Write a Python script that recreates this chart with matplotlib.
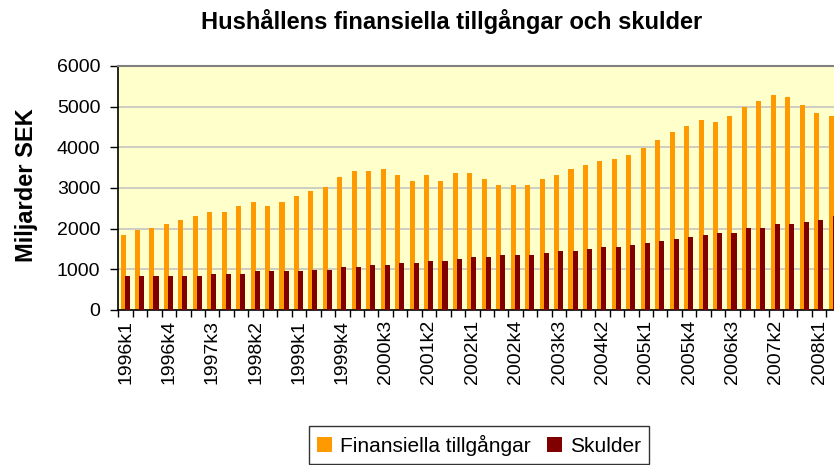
import matplotlib.pyplot as plt
import numpy as np

plt.rcParams['font.family'] = ['Liberation Sans', 'DejaVu Sans']

# kvartal 1996k1 .. 2008k2
kvartal = [f"{ar}k{k}" for ar in range(1996, 2009) for k in range(1, 5)][:50]

tillgangar = [1841, 1964, 2013, 2111, 2209, 2308, 2406, 2406, 2553, 2651,
              2553, 2651, 2799, 2921, 3020, 3265, 3412, 3412, 3461, 3314,
              3167, 3314, 3167, 3363, 3363, 3216, 3069, 3069, 3069, 3216,
              3314, 3461, 3560, 3658, 3707, 3805, 3977, 4173, 4370, 4517,
              4664, 4615, 4763, 4984, 5131, 5278, 5229, 5033, 4836, 4763]

skulder = [835, 835, 835, 835, 835, 835, 884, 884, 884, 957,
           957, 957, 957, 982, 982, 1056, 1056, 1105, 1105, 1154,
           1154, 1203, 1203, 1252, 1301, 1301, 1350, 1350, 1350, 1399,
           1448, 1448, 1498, 1547, 1547, 1596, 1645, 1694, 1743, 1792,
           1841, 1890, 1890, 2013, 2013, 2111, 2111, 2160, 2209, 2308]

yticks = [0, 1000, 2000, 3000, 4000, 5000, 6000]

fig = plt.figure(figsize=(8.34, 4.65), dpi=100)
ax = fig.add_axes([118.3/834, 1-310/465, 722.5/834, 244/465])
ax.set_facecolor('#FFFFCC')

x = np.arange(len(kvartal))
ax.bar(x - 0.17, tillgangar, width=0.35, color='#FF9900', label='Finansiella tillgångar', zorder=2)
ax.bar(x + 0.11, skulder, width=0.35, color='#800000', label='Skulder', zorder=3)

ax.set_xlim(-0.5, len(kvartal) - 0.5)
ax.set_ylim(0, 6000)
ax.set_yticks(yticks)
ax.set_yticklabels([str(v) for v in yticks], fontsize=14)
ax.yaxis.grid(True, color='#C0C0C0', linewidth=1.1, zorder=1)
ax.set_axisbelow(True)

ax.set_xticks(x[::3])
ax.set_xticklabels(kvartal[::3], rotation=90, fontsize=14)
ax.set_xticks(np.arange(-0.5, len(kvartal), 1), minor=True)
ax.tick_params(axis='x', which='major', length=0, pad=7)
ax.tick_params(axis='x', which='minor', length=5, width=1, direction='out')
ax.tick_params(axis='y', length=6, width=1, direction='out', pad=7)

ax.spines['top'].set_color('#808080')
ax.spines['top'].set_linewidth(1.5)
ax.spines['right'].set_visible(False)
ax.spines['left'].set_linewidth(1.2)
ax.spines['bottom'].set_linewidth(1.2)

fig.text(0.542, 1-22/465, 'Hushållens finansiella tillgångar och skulder',
         ha='center', va='center', fontsize=17, fontweight='bold')
fig.text(27/834, 1-185/465, 'Miljarder SEK', rotation=90,
         ha='center', va='center', fontsize=17, fontweight='bold')

leg = fig.legend(loc='center', bbox_to_anchor=(479/834, 1-445/465), ncol=2,
                 fontsize=15, frameon=True, fancybox=False, handlelength=0.7,
                 handleheight=0.7, handletextpad=0.4, columnspacing=0.8,
                 borderpad=0.4)
leg.get_frame().set_edgecolor('black')
leg.get_frame().set_linewidth(1)

fig.savefig('out.png', dpi=100)
